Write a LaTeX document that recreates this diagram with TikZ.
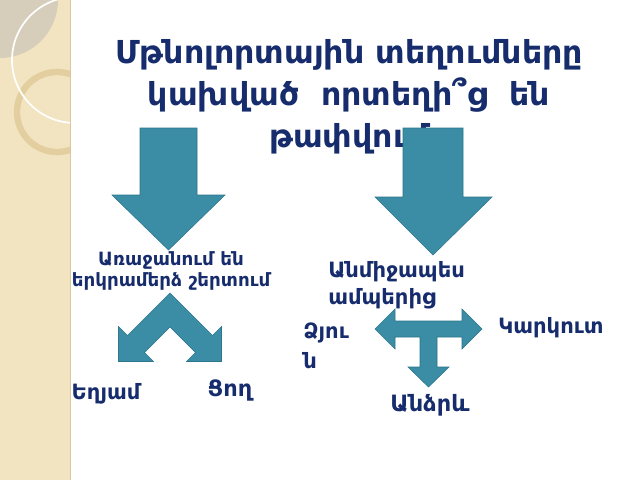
\documentclass[tikz,border=0pt]{standalone}
\usepackage{fontspec}
\setmainfont{DejaVu Sans}
\usetikzlibrary{positioning}
\definecolor{navy}{RGB}{22,44,108}
\definecolor{teal}{RGB}{58,141,164}
\definecolor{tealdark}{RGB}{45,118,140}
\definecolor{sand}{RGB}{242,228,192}
\definecolor{sandline}{RGB}{216,199,160}
\definecolor{ringtan}{RGB}{226,206,158}
\definecolor{leafgray}{RGB}{214,206,186}

\begin{document}
\begin{tikzpicture}
                [
                    x=0.025cm,y=-0.025cm,
                    heading/.style={text=navy,font=\bfseries\fontsize{22.5}{30}\selectfont,align=center,inner sep=0},
                    label/.style={text=navy,font=\bfseries\fontsize{#1}{#1}\selectfont,inner sep=0},
                    label/.default=15,
                    blockarrow/.style={fill=teal,draw=tealdark,line width=0.4pt,line join=miter},
                ]
                \useasboundingbox (0,0) rectangle (640,480);
                \fill[white] (0,0) rectangle (640,480);
                \begin{scope}
                    \clip (0,0) rectangle (70,480);
                    \fill[sand] (0,0) rectangle (70,480);
                    \fill[leafgray] (0,0) circle (58);
                    \draw[ringtan,line width=4.5] (57,112) circle (40);
                    \draw[white,line width=1.2] (75,60) circle (63);
                \end{scope}
                \draw[sandline] (70,0) -- (70,480);
                \node[heading] (title) at (349,97) {Մթնոլորտային տեղումները\\կախված \ որտեղի՞ց \ են\\թափվում};
                \draw[blockarrow] (140,128) -- (197,128) -- (197,195) -- (225,195) -- (168.5,250)
                    -- (112,195) -- (140,195) -- cycle;
                \draw[blockarrow] (403,128) -- (463,128) -- (463,197) -- (492,197) -- (433,255)
                    -- (375,197) -- (403,197) -- cycle;
                \node[label=13,align=center,font=\bfseries\fontsize{13}{15}\selectfont] (ground) at (171,271) {Առաջանում են\\երկրամերձ շերտում};
                \node[label=15,anchor=west,align=left,font=\bfseries\fontsize{15}{19}\selectfont] (cloud) at (328,285) {Անմիջապես\\ամպերից};
                \draw[blockarrow] (170,293) -- (127.5,335.5) -- (118.5,326.5) -- (118.5,361.5) -- (153.5,361.5)
                    -- (144.5,352.5) -- (170,327) -- (195.5,352.5) -- (186.5,361.5) -- (221.5,361.5)
                    -- (221.5,326.5) -- (212.5,335.5) -- cycle;
                \draw[blockarrow] (375,329) -- (395,309) -- (395,321) -- (462,321) -- (462,309) -- (482,329)
                    -- (462,349) -- (462,337) -- (437,337) -- (437,367) -- (449,367) -- (428.5,387)
                    -- (408,367) -- (420,367) -- (420,337) -- (395,337) -- (395,349) -- cycle;
                \node[label] (frost) at (106,394) {Եղյամ};
                \node[label=16] (dew) at (230,390) {Ցող};
                \node[label,anchor=west,align=left,font=\bfseries\fontsize{15}{21}\selectfont] (snow) at (303,346) {Ձյու\\ն};
                \node[label] (hail) at (551,328) {Կարկուտ};
                \node[label=16] (rain) at (430,405) {Անձրև};
            \end{tikzpicture}
\end{document}
